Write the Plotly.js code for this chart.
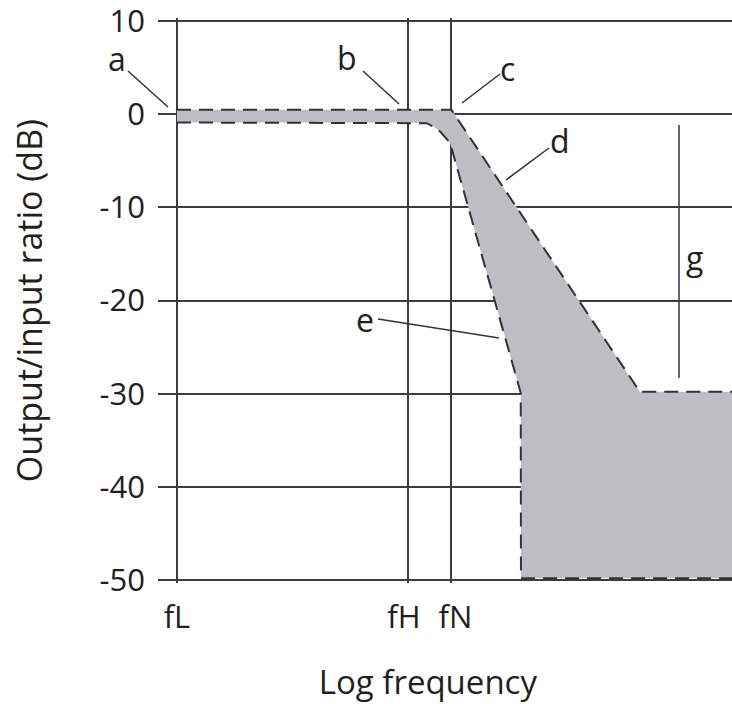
<!DOCTYPE html>
<html><head><meta charset="utf-8">
<script src="https://cdn.plot.ly/plotly-3.0.1.min.js"></script>
<style>html,body{margin:0;padding:0;background:#fff}</style>
</head><body><div id="chart" style="width:732px;height:704px"></div>
<script>
// Frequency axis (arbitrary log-frequency units, fL = 0, fH = 10)
const freqTicks = [0, 10, 11.88];
const freqLabels = ['fL', 'fH\u00a0', '\u00a0fN'];
const dbTicks = [10, 0, -10, -20, -30, -40, -50];
const dbLabels = ['10', '0', '-10', '-20', '-30', '-40', '-50'];

// Upper tolerance boundary (dB)
const upperX = [0, 11.88, 20.04, 24.1];
const upperY = [0.45, 0.45, -29.8, -29.8];

// Lower tolerance boundary (dB)
const lowerX = [0, 10, 10.81, 11.1, 11.39, 11.82, 14.88, 14.89, 24.1];
const lowerY = [-0.91, -0.91, -0.98, -1.35, -1.88, -3.09, -29.9, -49.8, -49.8];

// Callout letters
const calloutText = ['a', 'b', 'c', 'd', 'e', 'g'];

const W = 732, H = 704, L = 158, R = 0, T = 18, B = 121;
const pw = W - L - R, ph = H - T - B;
const px = v => (v - L) / pw;
const py = v => (H - B - v) / ph;

const polyX = upperX.concat(lowerX.slice().reverse());
const polyY = upperY.concat(lowerY.slice().reverse());

const dashStyle = {color: '#333333', width: 2, dash: '14px,8px'};

const traces = [
  {x: polyX, y: polyY, type: 'scatter', mode: 'lines', fill: 'toself',
   fillcolor: '#bdbec1', line: {width: 0}, hoverinfo: 'skip', showlegend: false},
  {x: upperX, y: upperY, type: 'scatter', mode: 'lines', line: dashStyle, showlegend: false},
  {x: lowerX, y: lowerY, type: 'scatter', mode: 'lines', line: dashStyle, showlegend: false}
];

// leader line positions (pixels) and label positions (pixels)
const leaders = [[128,71,168,107],[363,71,399,104],[500,74,462,103],[549,148,506,180],[378,319,499,338],[679,125,679,378]];
const labelPos = [[117,58],[347,57],[507,68],[560,140],[365,319],[694,257]];

const FONT = 'Open Sans, Noto Sans, sans-serif';
const TXT = '#231f20';

const shapes = leaders.map(l => ({type: 'line', xref: 'paper', yref: 'paper',
  x0: px(l[0]), y0: py(l[1]), x1: px(l[2]), y1: py(l[3]),
  line: {color: '#333333', width: 1.5}, layer: 'above'}));

const annotations = calloutText.map((t, i) => ({text: t, xref: 'paper', yref: 'paper',
  x: px(labelPos[i][0]), y: py(labelPos[i][1]), xanchor: 'center', yanchor: 'middle',
  showarrow: false, font: {family: FONT, size: 32, color: TXT}}));

const layout = {
  width: W, height: H,
  margin: {l: L, r: R, t: T, b: B},
  paper_bgcolor: '#ffffff', plot_bgcolor: '#ffffff',
  showlegend: false,
  font: {family: FONT, size: 31, color: TXT},
  xaxis: {range: [-19/23.1, 555/23.1], tickvals: freqTicks, ticktext: freqLabels,
    showgrid: true, gridcolor: '#3c3c3c', gridwidth: 2, zeroline: false, showline: false,
    ticks: '', tickangle: 0, ticklabelstandoff: 13, fixedrange: true,
    tickfont: {family: FONT, size: 31, color: TXT},
    title: {text: 'Log frequency\u00a0\u00a0\u00a0\u00a0\u200b', font: {family: FONT, size: 33, color: TXT}, standoff: 36}},
  yaxis: {range: [-50.3, 10.3], tickvals: dbTicks, ticktext: dbLabels,
    showgrid: true, gridcolor: '#3c3c3c', gridwidth: 2, zeroline: false, showline: false,
    ticks: '', ticklabelstandoff: 12, ticklabeloverflow: 'allow', fixedrange: true,
    tickfont: {family: FONT, size: 31, color: TXT},
    title: {text: 'Output/input ratio (dB)', font: {family: FONT, size: 34, color: TXT}, standoff: 46}},
  shapes: shapes,
  annotations: annotations
};

Plotly.newPlot('chart', traces, layout, {displayModeBar: false, staticPlot: true});
</script></body></html>
